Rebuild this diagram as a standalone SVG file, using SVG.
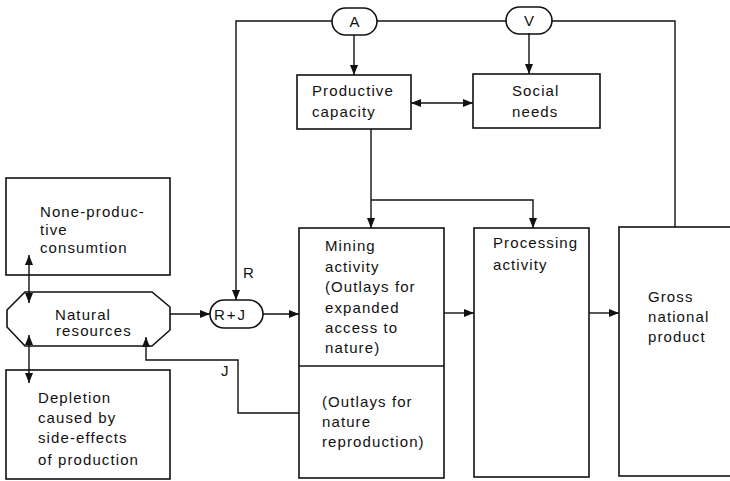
<svg xmlns="http://www.w3.org/2000/svg" width="730" height="481" viewBox="0 0 730 481">
<style>
.box{fill:#fff;stroke:#111;stroke-width:1.6}
.ln{fill:none;stroke:#111;stroke-width:1.4}
text{font-family:"Liberation Sans",Arial,sans-serif;font-size:15px;fill:#111;letter-spacing:1.1px}
.c{text-anchor:middle}
</style>
<defs>
<marker id="ah" viewBox="0 0 10 8" refX="10" refY="4" markerWidth="10" markerHeight="8" markerUnits="userSpaceOnUse" orient="auto-start-reverse">
<path d="M0,0 L10,4 L0,8 z" fill="#111"/>
</marker>
</defs>
<rect width="730" height="481" fill="#fff"/>
<g id="nonproductive">
<rect class="box" x="6" y="178" width="164" height="97"/>
<text x="40" y="217">None-produc-</text>
<text x="40" y="235">tive</text>
<text x="40" y="253">consumtion</text>
</g>
<g id="natural">
<path class="box" d="M25,292 H152 L170,307 V330 L152,346 H25 L7,327 V310 z"/>
<text x="55" y="320">Natural</text>
<text x="56" y="336">resources</text>
</g>
<g id="depletion">
<rect class="box" x="6" y="370" width="164" height="109"/>
<text x="38" y="403">Depletion</text>
<text x="38" y="423">caused by</text>
<text x="38" y="443">side-effects</text>
<text x="38" y="465">of production</text>
</g>
<g id="rj">
<rect class="box" x="210" y="300" width="53" height="28" rx="14"/>
<text x="214" y="320" style="letter-spacing:2px">R+J</text>
</g>
<g id="A">
<rect class="box" x="332" y="8" width="45" height="27" rx="13.5"/>
<text class="c" x="354.5" y="27" style="letter-spacing:0">A</text>
</g>
<g id="V">
<rect class="box" x="506" y="7" width="46" height="27" rx="13.5"/>
<text class="c" x="529" y="26" style="letter-spacing:0">V</text>
</g>
<g id="productive">
<rect class="box" x="297" y="75" width="114" height="54"/>
<text x="312" y="96">Productive</text>
<text x="312" y="117">capacity</text>
</g>
<g id="social">
<rect class="box" x="473" y="74" width="127" height="54"/>
<text x="512" y="96">Social</text>
<text x="512" y="117">needs</text>
</g>
<g id="mining">
<rect class="box" x="299" y="228" width="145" height="250"/>
<line class="ln" x1="299" y1="366" x2="444" y2="366"/>
<text x="325" y="251">Mining</text>
<text x="325" y="272">activity</text>
<text x="325" y="292">(Outlays for</text>
<text x="325" y="313">expanded</text>
<text x="325" y="333">access to</text>
<text x="325" y="353">nature)</text>
<text x="322" y="407">(Outlays for</text>
<text x="322" y="427">nature</text>
<text x="322" y="447">reproduction)</text>
</g>
<g id="processing">
<rect class="box" x="474" y="228" width="115" height="249"/>
<text x="493" y="248">Processing</text>
<text x="493" y="270">activity</text>
</g>
<g id="gnp">
<rect class="box" x="619" y="227" width="120" height="249"/>
<text x="648" y="302">Gross</text>
<text x="648" y="322">national</text>
<text x="648" y="342">product</text>
</g>
<g id="connectors">
<path class="ln" d="M675,227 V21 H552"/>
<path class="ln" d="M506,21 H377"/>
<path class="ln" d="M332,21 H236 V300" marker-end="url(#ah)"/>
<path class="ln" d="M354,35 V75" marker-end="url(#ah)"/>
<path class="ln" d="M529,33 V74" marker-end="url(#ah)"/>
<path class="ln" d="M411,103 H473" marker-start="url(#ah)" marker-end="url(#ah)"/>
<path class="ln" d="M371,129 V228" marker-end="url(#ah)"/>
<path class="ln" d="M371,200 H533 V228" marker-end="url(#ah)"/>
<path class="ln" d="M170,314 H210" marker-end="url(#ah)"/>
<path class="ln" d="M263,314 H299" marker-end="url(#ah)"/>
<path class="ln" d="M444,313 H474" marker-end="url(#ah)"/>
<path class="ln" d="M589,313 H619" marker-end="url(#ah)"/>
<path class="ln" d="M299,413 H238 V360 H146 V337" marker-end="url(#ah)"/>
<path class="ln" d="M29,255 V303" marker-start="url(#ah)" marker-end="url(#ah)"/>
<path class="ln" d="M29,335 V383" marker-start="url(#ah)" marker-end="url(#ah)"/>
<text x="243" y="278">R</text>
<text x="221" y="376">J</text>
</g>
</svg>
